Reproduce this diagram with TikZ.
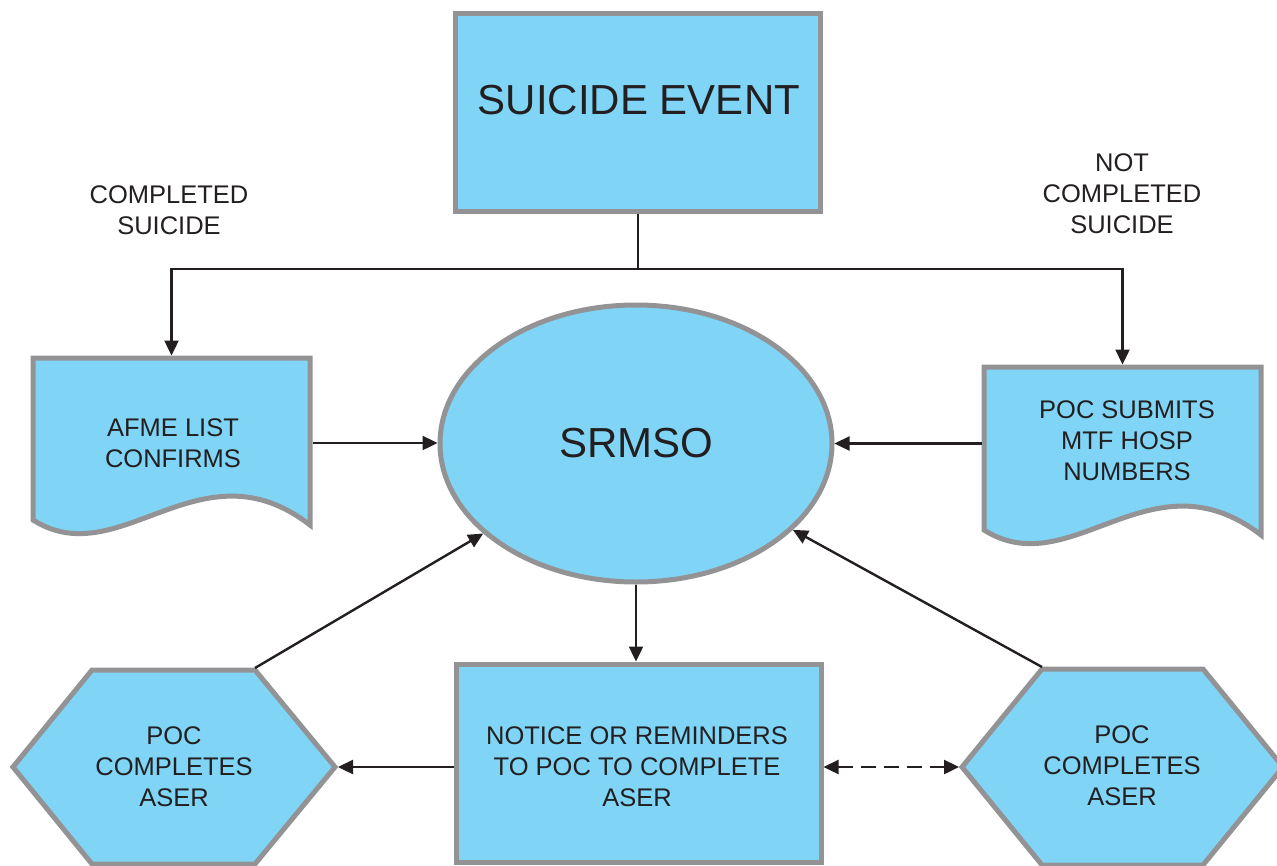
\documentclass[tikz,border=0pt]{standalone}
\usepackage{fontspec}
\setmainfont{Liberation Sans}
\usetikzlibrary{arrows.meta,shapes.geometric,calc}
\definecolor{boxfill}{RGB}{128,213,247}
\definecolor{boxline}{RGB}{147,147,149}
\definecolor{ink}{RGB}{35,31,32}
\begin{document}
\begin{tikzpicture}[x=1pt,y=-1pt,
  shapebox/.style={fill=boxfill,draw=boxline,line width=5pt,line join=miter},
  txt/.style={text=ink,align=center,font=\fontsize{25.5}{31}\selectfont,inner sep=0pt},
  bigtxt/.style={text=ink,align=center,font=\fontsize{42}{50}\selectfont,inner sep=0pt},
  anchorbox/.style={draw=none,inner sep=0pt,outer sep=2.5pt},
  conn/.style={draw=ink,line width=2.4pt},
  arr/.style={conn,-{Triangle[length=15pt,width=14pt]}},
  darr/.style={conn,{Triangle[length=15pt,width=14pt]}-{Triangle[length=15pt,width=14pt]},dash pattern=on 15pt off 8pt}
]
\useasboundingbox (0,0) rectangle (1277,865);

% Suicide event box
\node[shapebox,rectangle,minimum width=365pt,minimum height=198pt,inner sep=0pt,outer sep=2.5pt] (se) at (638,112) {};
\node[bigtxt] (selabel) at (639,100) {SUICIDE EVENT};

% Side labels
\node[txt] (complbl) at (169,210) {COMPLETED\\SUICIDE};
\node[txt] (notcomplbl) at (1122,194) {NOT\\COMPLETED\\SUICIDE};

% SRMSO ellipse
\node[shapebox,ellipse,minimum width=392pt,minimum height=277pt,inner sep=0pt,outer sep=2.5pt,bigtxt] (srmso) at (636,443.5) {SRMSO};

% Document shapes
\node[anchorbox,minimum width=277pt,minimum height=170pt] (afme) at (171.5,443) {};
\begin{scope}[shift={(afme.north west)},shift={(2.5,2.5)}]
  \draw[shapebox] (0,0) -- (277,0) -- (277,167) .. controls (167,82) and (87,217) .. (0,162) -- cycle;
\end{scope}
\node[txt] (afmetxt) at (173,443.5) {AFME LIST\\CONFIRMS};

\node[anchorbox,minimum width=277pt,minimum height=170pt] (poc) at (1122.5,452) {};
\begin{scope}[shift={(poc.north west)},shift={(2.5,2.5)}]
  \draw[shapebox] (0,0) -- (277,0) -- (277,168) .. controls (167,83) and (87,218) .. (0,163) -- cycle;
\end{scope}
\node[txt] (poctxt) at (1127,441) {POC SUBMITS\\MTF HOSP\\NUMBERS};

% Notice box
\node[shapebox,rectangle,minimum width=365pt,minimum height=198pt,inner sep=0pt,outer sep=2.5pt] (notice) at (638.5,763) {};
\node[txt] (noticetxt) at (637,767) {NOTICE OR REMINDERS\\TO POC TO COMPLETE\\ASER};

% Hexagons
\draw[shapebox] (13,767) -- (92,670) -- (255,670) -- (335,767) -- (255,864) -- (92,864) -- cycle;
\node[txt] (lhex) at (174,767) {POC\\COMPLETES\\ASER};
\coordinate (lhexTR) at (255,668);
\coordinate (lhexR) at (338,767);

\draw[shapebox] (962,767) -- (1042,669) -- (1203,669) -- (1283,767) -- (1203,865) -- (1042,865) -- cycle;
\node[txt] (rhex) at (1122,766) {POC\\COMPLETES\\ASER};
\coordinate (rhexTL) at (1042,667);
\coordinate (rhexL) at (959,767);

% Connectors
\coordinate (junc) at (638,269);
\draw[conn] (se.south) -- (junc);
\draw[arr] (junc) -| (afme.north);
\draw[arr] (junc) -| (poc.north);
\draw[arr] (afme.east) -- (afme.east -| srmso.west);
\draw[arr] (poc.west |- srmso) -- (srmso.east);
\draw[arr] (srmso.south) -- (srmso.south |- notice.north);
\draw[arr] (lhexTR) -- (srmso);
\draw[arr] (rhexTL) -- (srmso);
\draw[arr] (notice.west |- lhex) -- (lhexR);
\draw[darr] (notice.east |- rhexL) -- (rhexL);
\end{tikzpicture}
\end{document}
